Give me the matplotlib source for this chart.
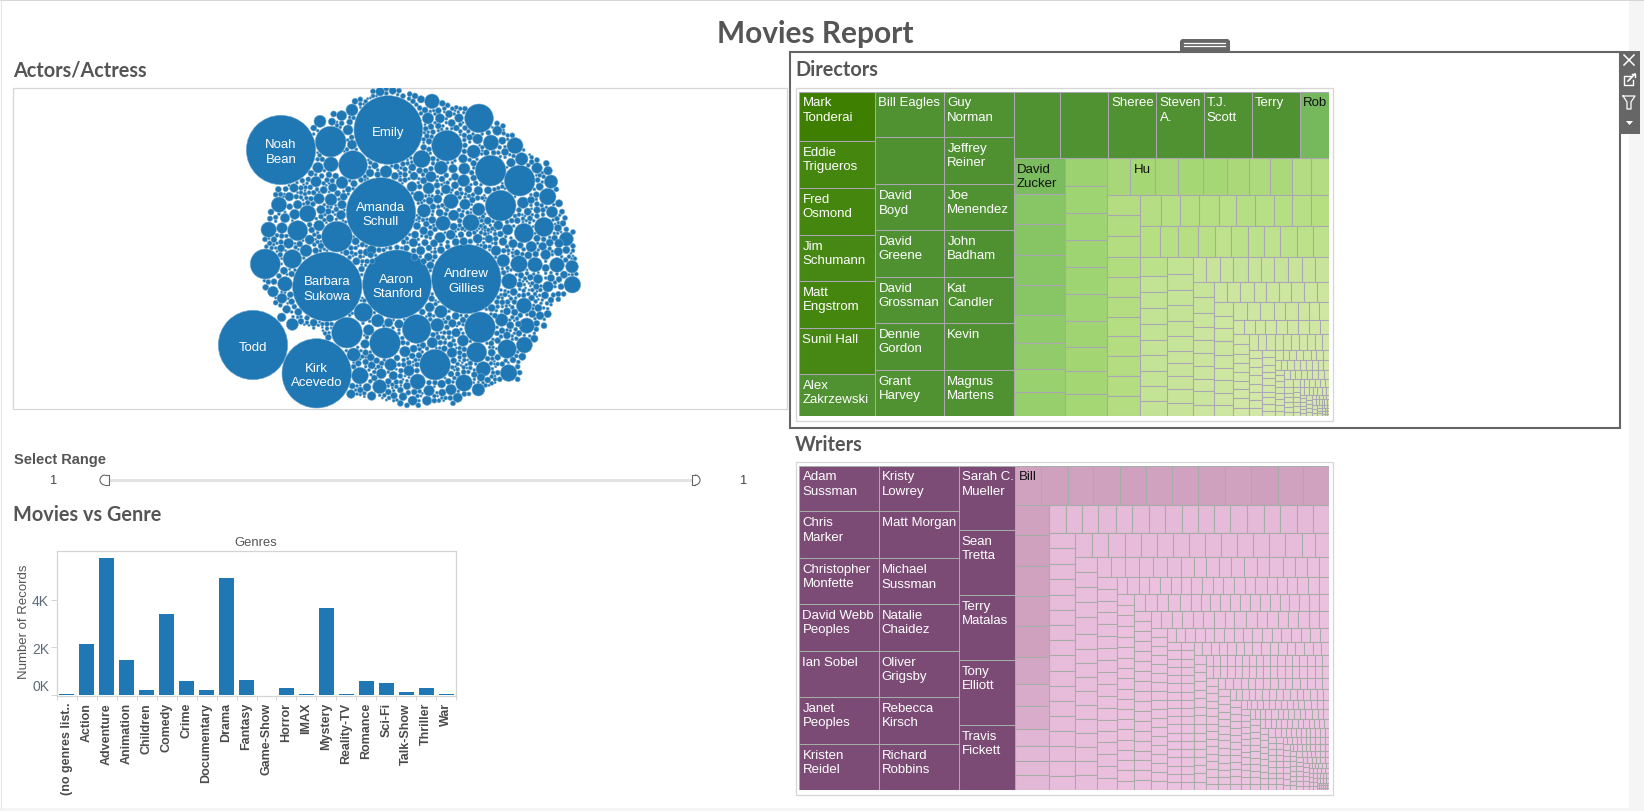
import numpy as np
import matplotlib
matplotlib.use("Agg")
import matplotlib.pyplot as plt
from matplotlib.patches import Rectangle, Wedge, Arc, Polygon
from matplotlib.path import Path
from matplotlib.ticker import FixedLocator, NullFormatter

# ---------- data ----------
genres = ["(no genres list..", "Action", "Adventure", "Animation", "Children", "Comedy", "Crime",
          "Documentary", "Drama", "Fantasy", "Game-Show", "Horror", "IMAX", "Mystery", "Reality-TV",
          "Romance", "Sci-Fi", "Talk-Show", "Thriller", "War"]
genre_records = [45, 2130, 5750, 1470, 210, 3400, 590, 210, 4910, 630, 8, 295, 42, 3650, 42, 590, 505, 125, 295, 42]

actor_names = ["Noah\nBean", "Emily", "Amanda\nSchull", "Barbara\nSukowa", "Aaron\nStanford",
               "Andrew\nGillies", "Todd", "Kirk\nAcevedo"]
named_x = [168, 490, 468, 307, 516, 724, 84, 275]
named_y = [198, 138, 385, 608, 601, 585, 783, 868]
named_size = [104, 103, 104, 104, 103, 104, 104, 104]

upper_bubbles = [(317,173,46),(384,243,43),(666,185,46),(762,103,43),(797,260,46),(884,290,46),(827,365,46),(336,458,46),
 (218,440,30),(590,225,26),(318,241,22),(350,95,15),(381,78,18),(285,112,18),(621,52,22),(465,23,13),(503,20,11),(369,138,15),
 (381,182,14),(321,113,11),(609,103,17),(645,103,14),(702,102,13),(680,117,11),(672,90,11),(758,165,15),(798,176,23),(817,140,14),
 (870,185,24),(832,170,11),(746,203,20),(890,225,19),(858,236,13),(936,252,16),(969,260,13),(978,293,20),(944,308,11),(968,338,25),
 (1002,358,11),(981,384,17),(1011,383,8),(648,251,20),(684,254,13),(718,254,17),(714,224,13),(279,251,16),(258,268,9),(273,293,16),
 (351,296,18),(323,311,13),(296,318,11),(282,344,16),(318,347,18),(351,362,13),(248,389,25),(288,377,13),(209,391,15),(218,362,13),
 (162,362,23),(193,338,13),(207,312,13),(182,315,8),(167,331,7),(180,402,14),(152,400,7),(135,404,8),(131,437,23),(171,432,16),
 (282,425,16),(254,467,14),(147,467,9),(191,478,15),(348,393,14),(315,403,11),(483,263,18),(450,245,10),(435,267,12),(510,276,11),
 (458,272,9),(540,272,8),(567,276,12),(561,308,15),(596,290,10),(618,278,16),(611,313,17),(581,337,16),(651,285,9),(690,278,11),
 (716,290,18),(663,316,14),(597,380,20),(638,345,13),(678,352,22),(720,361,16),(761,376,19),(760,320,13),(789,319,11),(654,418,22),
 (686,394,16),(738,416,25),(788,410,11),(820,424,14),(848,437,16),(897,447,29),(957,429,29),(894,356,17),(918,348,11),(908,383,11),
 (936,378,10),(999,432,11),(1024,465,21),(989,462,9),(936,463,10),(877,410,9),(915,403,8),(894,404,6),(645,461,16),(677,452,14),
 (596,440,12),(565,476,13),(600,476,10),(627,478,11),(716,472,12),(758,464,14),(792,465,12),(834,473,12),(864,479,13),(919,488,16),
 (953,487,12),(1002,478,13),(387,299,10)]
lower_bubbles = [(121,60,45),(366,266,46),(480,297,46),(575,255,43),(765,250,46),(630,362,46),(755,325,30),(846,315,28),(898,303,24),
 (851,387,25),(905,245,23),(897,185,23),(853,112,23),(882,60,25),(930,62,22),(996,63,22),(1041,68,19),(1042,122,25),(969,128,16),
 (939,105,14),(1017,92,11),(962,32,15),(1000,23,13),(835,50,19),(813,20,15),(775,375,22),(717,417,25),(760,437,19),(578,413,23),
 (678,437,16),(698,461,14),(650,420,12),(612,440,16),(606,470,14),(563,470,14),(534,458,12),(507,455,10),(405,395,25),(464,428,21),
 (440,456,13),(378,450,13),(426,430,12),(469,389,15),(497,362,18),(552,380,16),(505,395,13),(540,323,16),(622,296,16),(681,326,15),
 (693,266,13),(682,238,12),(637,243,20),(714,290,17),(768,400,12),(800,326,11),(799,298,8),(415,205,28),(458,230,19),(491,236,13),
 (522,240,13),(431,258,16),(420,300,13),(386,332,20),(437,340,11),(455,350,9),(648,203,19),(614,190,14),(180,120,22),(202,45,28),
 (243,20,18),(144,143,16),(171,163,15),(185,196,12),(200,173,9),(170,220,13),(202,241,18),(168,13,11),(177,80,11),(147,113,9),
 (830,228,19),(831,260,9),(869,205,10),(945,215,12),(957,245,9),(935,238,9),(832,175,8),(880,240,9),(810,215,8),(1000,150,8),
 (985,153,7),(840,152,7),(425,25,11),(440,18,14),(442,52,8),(410,75,9),(437,33,9),(587,20,13),(569,40,11),(610,39,12),(596,52,9)]
small_sizes = [11]*40 + [9]*90 + [7.5]*150 + [6]*200 + [4.5]*260 + [3.5]*200

director_strips = [
 ('v',[205.6,194.6,194.6,190.4,194.6,190.4,173.9]),
 ('v',[171.3,176.3,172.5,176.3,172.5,176.3,172.5]),
 ('v',[172.6,177.7,173.9,177.7,173.9,177.7,173.9]),
 ('h',[170,174,174,172,174,174,108]),
 ('v',[101.5,84.6,87.4,84.6,84.6,77.1,75.2,64.9,67.7]),
 ('v',[63,60.8,60.8,60.8,60.8,60.8,58.5,54,51.8,49.5]),
 ('h',[47.3,48.4,47.3,49.5,48.4,44,41.8,44,36.3,37.4]),
 ('v',[37.2,38.4,37.2,37.8,36.6,36.6,34.8,36.6,36.6,36.6,36.6]),
 ('h',[35.7,32.9,32,32.9,30.1,32.9,31,32,31,32]),
 ('h',[32.6,31.6,32.6,29.8,27,27.9,27.9,27,27.9,27.9,27]),
 ('v',[27.9,23.5,23.5,23.5,23.5,22,22.5,22,23,22]),
 ('v',[23.5,22.1,20.7,22.1,20.7,19.8,17.5,17.9,17.9,19.3,17.9]),
 ('h',[18,18.8,18.8,19.5,18,18,19.5,18.8,18,18.8]),
 ('v',[17.6,18.7,16.4,15.2,15.2,15.2,14.8,14.4,15.6,13.7]),
 ('h',[14.4,14.4,14.4,13.8,13.8,13.2,14.4,13.2,13.8]),
 ('v',[14,13.3,13.7,14,13.7,13.3,13.7,11.9,12.3]),
 ('h',[12.5,12.5,13,10.9,12,10.9,9.4,9.4]),
 ('h',[8.7,9,8.2,9,9,8.7,8.7,9.2,7.6]),
 ('v',[8.7,8.1,7.8,7.8,7.8,7.8,7.8,8.1,7.5]),
 ('h',[7.7,6.8,7.4,6.8,6.8,6.5,6.5,7.1,5.7,6.5]),
 ('v',[5.9,6.1,6.1,5.9,5.9,5.7,5.9,5.7]),
 ('v',[5.1,5.3,4.6,4.1,5.1,4.6,4.1,4.6,4.6,3.9]),
 ('h',[4.7,3.2,4.1,3.8,4.1,3.2,3.9,3.4]),
 ('h',[3.2,3,3.2,3,3.2,2.9,3,2.7,3]),
 ('v',[3,3,3,3,3,2.7,3,2.9]),
 ('h',[3.3,2.7,2.9,3.3,2.9,2.9,3.3,3.1]),
 ('v',[3.8,2.9,2.1,2.3,2.3,2.4,2.3]),
 ('h',[2.8,1.9,2.2,2.3,2.2,2.2,2]),
 ('v',[1.9,1.9,1.8,1.7,2,1.8]),
 ('h',[1.6,1.7,1.5,1.7,1.9,1.7,1.3]),
 ('v',[1.2,1.3,1.2,1,1.2,1.2]),
 ('v',[1.6,1.3,1.3,1.4,1.4]),
 ('h',[.93,.76,.85,.85,.85]),
 ('h',[.97,.87,.77,.68,.77,.77]),
 ('v',[1.2,1,1]),
 ('v',[.91,.73,.73,.82]),
 ('h',[.33,.47,.53]),
 ('h',[.34,.34,.34]),
 ('h',[.34,.34,.34]),
 ('h',[.34,.34,.34]),
]
director_labels = {
 (0,0):"Mark\nTonderai",(0,1):"Eddie\nTrigueros",(0,2):"Fred\nOsmond",(0,3):"Jim\nSchumann",(0,4):"Matt\nEngstrom",
 (0,5):"Sunil Hall",(0,6):"Alex\nZakrzewski",
 (1,0):"Bill Eagles",(1,2):"David\nBoyd",(1,3):"David\nGreene",(1,4):"David\nGrossman",(1,5):"Dennie\nGordon",(1,6):"Grant\nHarvey",
 (2,0):"Guy\nNorman",(2,1):"Jeffrey\nReiner",(2,2):"Joe\nMenendez",(2,3):"John\nBadham",(2,4):"Kat\nCandler",(2,5):"Kevin",(2,6):"Magnus\nMartens",
 (3,2):"Sheree",(3,3):"Steven\nA.",(3,4):"T.J.\nScott",(3,5):"Terry",(3,6):"Rob",
 (4,0):"David\nZucker",(6,1):"Hu"}
director_dark_text = {(3,6),(4,0),(6,1)}
director_color_values = [0, 5, 15, 23, 32, 37, 48, 60, 85, 100, 108, 170, 178, 191, 206]
director_colors = ["#d6e9ae","#d4e8a9","#cbe59e","#c3e395","#b6df82","#b3dd80","#a6d775","#9fd471","#88c565","#7cbd60","#76b95d","#509232","#4f9130","#478813","#3e7f00"]

writer_strips = [
 ('v',[197.3,203,198.7,203,198.7,203,198.7]),
 ('v',[198.7,204.5,200.1,204.5,200.1,204.5,200.1]),
 ('v',[199.8,200.9,200.9,200.9,200.9]),
 ('h',[55.9,57.1,55.9,57.1,57.1,55.9,55.9,57.1,55.9,58.3,55.9,55.9]),
 ('v',[55.8,57.7,55.8,55.8,57.7,49,42.2,41.5,31.6,29.1,26,27.9]),
 ('h',[25.4,23.8,23.8,25.4,23.8,25.4,24.6,24.6,23.8,24.6,23.8,25.4,24.6,24.6,24.6,24.6,23.8]),
 ('v',[22.1,22.1,21.6,21.6,21.2,22.1,21.2,21.2,21.6,21.2,21.2,21.2,21.2,21.2,22.1,20.2,20.7]),
 ('h',[21.8,21.3,21.8,20.9,20.9,20.9,20.9,20.9,20.9,20.9,20.9,20.9,20.9,21.3,17.9,18.3]),
 ('v',[18,18.4,18,18,19.2,18,16.8,16.8,16.8,16.4,16.8,16.8,16.8,16.4,16.8,18.4]),
 ('h',[15.2,15.2,15.2,15.2,15.2,15.2,14.5,12.3,14.5,13.1,13.8,13.8,13.8,14.5,13.1,13.8,12.3,11.6]),
 ('v',[12.6,12.6,11.9,12.3,13,12.6,12.6,12.6,12.6,13.3,12.3,12.3,11.6,12.3,12.6,12.6,12.6,12.6]),
 ('h',[10.2,11.8,9.6,10.2,10.2,10.2,9.6,10.6,10.6,9.6,10.2,10.2,10.2,10.9,9.6,10.2,9.6,10.6,9.9,10.2]),
 ('v',[10.2,10.2,10.6,10.2,9.9,9.9,9.9,9.9,9.9,9.9,9.6,9.9,9.9,9.9,9.6,9.9,9.9,9.9,9.3]),
 ('h',[9.9,11.4,10.2,11.4,9.9,9.3,8.3,8.9,9.6,9.3,9.3,9.3,9.3,9.3,8.3,9.3,9.3,9.3,9.3]),
 ('v',[9.3]*18),
 ('h',[8.6,9.8,9.2,9.5,8.9,9.8,9.8,8,10.7,9.2,9.5,9.2,9.5,8.9,9.5,9.2,8.9]),
 ('v',[7.6]*18),
 ('h',[7.7,7.2,8,7.7,7.4,7.7,7.7,7.7,7.2,7.7,8,7.4,8,7.7,7.4,7.7,7.4]),
 ('v',[6.2]*18),
 ('v',[6.2]*18),
 ('h',[5.3,6.2,5.5,5.5,6.2,5.3,6,6,6,6,6,5.8,6,5.8,5.8,5.8]),
 ('v',[6.3,5,5.7,5.9,5.5,5.7,5.7,5.5,5.9,5.2,5.7,5.2,5.2,5.2,5.7,5.5]),
 ('h',[4,4.2,4.2,4.4,4.6,4,4.2,4.4,4.2,4.2,4.4,4.4,4.4,4.4,5,4.2,4.4]),
 ('h',[4.5,4.7,4.7,4.9,5.2,4.5,4.7,4.9,4.7,4.7,4.9,4.9,4.9,4.9,5.6,4.7,4.9]),
 ('v',[4.8,4.8,5,5,5.2,5,5,4.8,4.8,5,5,5.2,5,4.8,3.9]),
 ('h',[4.1,4.7,4.7,4.5,4.5,4.5,4.5,4.7,4.5,4.3,4.9,4.3,4.7,4.5,4.5]),
 ('v',[4.2,4.6,4.8,4.4,4,4.6,4,4.6,4.4,4.4,4.4,4.2,4.4,3.6]),
 ('h',[3.8,3.8,4.2,3.6,4,4.4,4,4.4,4,4,3.8,4.2,4,3.6,4]),
 ('v',[4.2,4,4.4,4,4.4,4,4,4,4.2,4.2,4.2,4.4,4]),
 ('h',[2.7,2.1,2.7,2.7,2.6,2.7,2.7,2.6,2.7,2.6,2.7,3,2.7,2.9,2.7]),
 ('v',[3.4,2.9,3,3,3.2,3,3.4,2.7,3.2,3.4,3.4,3.7,3]),
 ('h',[2.9,2.5,3.1,3.3,3.3,2.7,3.1,3.3,3.1,2.9,3.6,3.3,2.9,3.3]),
 ('v',[3.6]*11),
 ('h',[2.5,2.9,2.7,2.7,2.7,2.7,2.9,2.9,2.9,2.5,2.5,2.5,2.7]),
 ('v',[2.6]*10),
 ('h',[3.6,2.8,2.4,2.4,2.4,2.4,2.4,2.1,2.4,2.4,2.3,2.3]),
 ('v',[2.6]*9),
 ('v',[2.26]*9),
 ('h',[1.65,1.8,1.9,1.65,1.8,1.65,1.9,1.9,1.8,1.8]),
 ('v',[2.2]*8),
 ('h',[1.5,1.6,1.7,1.6,1.7,2,2,1.9,1.9]),
 ('v',[1.6]*8),
 ('h',[1.9,1.5,1.2,1.3,1.5,1.4,1.4]),
 ('v',[1.8]*7),
 ('h',[1.44,1.34,1.34,1.34,1.34,1.44]),
 ('v',[1.5]*6),
 ('h',[.87,.97,.97,.97,1.16,1.07]),
 ('h',[1.1,1.1,1.1,1.1,1.3]),
 ('v',[1.1]*4),
 ('h',[.91,.91,.91,.82,.82]),
 ('v',[.89]*3),
 ('h',[.77]*4),
 ('h',[.28]*6),
 ('h',[.28]*6),
 ('h',[.28]*6),
]
writer_labels = {
 (0,0):"Adam\nSussman",(0,1):"Chris\nMarker",(0,2):"Christopher\nMonfette",(0,3):"David Webb\nPeoples",(0,4):"Ian Sobel",
 (0,5):"Janet\nPeoples",(0,6):"Kristen\nReidel",
 (1,0):"Kristy\nLowrey",(1,1):"Matt Morgan",(1,2):"Michael\nSussman",(1,3):"Natalie\nChaidez",(1,4):"Oliver\nGrigsby",
 (1,5):"Rebecca\nKirsch",(1,6):"Richard\nRobbins",
 (2,0):"Sarah C.\nMueller",(2,1):"Sean\nTretta",(2,2):"Terry\nMatalas",(2,3):"Tony\nElliott",(2,4):"Travis\nFickett",
 (3,0):"Bill"}
writer_dark_text = {(3,0)}
writer_color_values = [0, 5, 20, 30, 45, 57, 200]
writer_colors = ["#edc5e3","#ecc3e1","#e8bcdb","#e2b6d5","#d6a9c8","#cfa1bf","#7b4b76"]

# ---------- helpers ----------
SANS = "Liberation Sans"
HEAD = "Lato"
BLUE = "#1f77b4"
HEADC = "#555555"
W, H = 1644, 812
fig = plt.figure(figsize=(W/100, H/100), dpi=100, facecolor="white")

def axpx(x0, y0, x1, y1, **kw):
    return fig.add_axes([x0/W, 1-y1/H, (x1-x0)/W, (y1-y0)/H], **kw)

bg = axpx(0, 0, W, H)
bg.set_xlim(0, W); bg.set_ylim(H, 0); bg.axis("off")

def rect(x0, y0, x1, y1, fc="none", ec="none", lw=1.0, z=1):
    bg.add_patch(Rectangle((x0, y0), x1-x0, y1-y0, fc=fc, ec=ec, lw=lw, zorder=z))

rect(1629, 0, W, H, fc="#f5f5f5")
rect(0, 809, W, H, fc="#f5f5f5")
bg.plot([0, W], [1, 1], color="#cfcfcf", lw=1.2)
bg.plot([0.5, 0.5], [1, 809], color="#e4e4e4", lw=0.8)

def heading(x, y, s, size=14.3):
    bg.text(x, y, s, fontsize=size, fontfamily=HEAD, fontweight="bold", color=HEADC, va="center", ha="left")

bg.text(815, 34, "Movies Report", fontsize=21.5, fontfamily=HEAD, fontweight="bold", color=HEADC, ha="center", va="center")
heading(13, 70.5, "Actors/Actress")
heading(795, 70.5, "Directors")
heading(795, 445, "Writers")
heading(13, 515, "Movies vs Genre")

# frames
rect(13, 88.5, 786.5, 409.5, ec="#d6d6d6", lw=0.9)
rect(795.5, 88.5, 1332.5, 421.5, ec="#d6d6d6", lw=0.9)
rect(795.5, 462.5, 1332.5, 795.5, ec="#d6d6d6", lw=0.9)

# selected worksheet chrome
rect(790, 52.7, 1620, 428.7, ec="#666666", lw=1.5, z=3)
bg.add_patch(Polygon([[1180, 52], [1180, 42], [1182, 40], [1228, 40], [1230, 42], [1230, 52]], fc="#666666", ec="none", zorder=3))
bg.plot([1184, 1225], [43.5, 43.5], color="white", lw=0.9, zorder=4)
bg.plot([1184, 1225], [47, 47], color="white", lw=0.9, zorder=4)
rect(1619.5, 51.5, 1640, 135, fc="#666666", z=4)
bg.plot([1624, 1634], [56, 66], color="white", lw=1.1, zorder=5)
bg.plot([1624, 1634], [66, 56], color="white", lw=1.1, zorder=5)
bg.plot([1631, 1624, 1624, 1633, 1633], [77, 77, 86, 86, 81], color="white", lw=1.0, zorder=5)
bg.plot([1628, 1635], [82, 75], color="white", lw=1.2, zorder=5)
bg.plot([1632, 1635, 1635], [75, 75, 78], color="white", lw=1.0, zorder=5)
bg.plot([1623, 1635, 1631, 1631, 1627, 1627, 1623], [97, 97, 103, 110, 110, 103, 97], color="white", lw=0.9, zorder=5)
bg.add_patch(Polygon([[1626, 122], [1633, 122], [1629.5, 126]], fc="white", ec="none", zorder=5))

# slider
bg.text(14, 460.5, "Select Range", fontsize=10.5, fontfamily=SANS, fontweight="bold", color="#555555", va="center")
bg.text(54, 481, "1", fontsize=9.2, fontfamily=SANS, color="#444444", ha="center", va="center")
bg.text(743.5, 481, "1", fontsize=9.2, fontfamily=SANS, color="#444444", ha="center", va="center")
rect(106, 479.5, 693, 483, fc="#e3e3e3")
for cx, t1, t2, flat in ((105, 90, 270, 108.5), (695, -90, 90, 691.5)):
    bg.add_patch(Wedge((cx, 481), 5, t1, t2, fc="white", ec="none", zorder=3))
    rect(min(cx, flat), 476, max(cx, flat), 486, fc="white", z=3)
    bg.add_patch(Arc((cx, 481), 10, 10, theta1=t1, theta2=t2, color="#666666", lw=0.8, zorder=4))
    bg.plot([cx, flat, flat, cx], [476, 476, 486, 486], color="#666666", lw=0.8, zorder=4)

# ---------- packed bubbles ----------
XL, XR = (13-225)*3, (786.5-225)*3
YT, YB = (88.5-85)*3, (409.5-85)*3
bub = axpx(13, 88.5, 786.5, 409.5)
bub.set_xlim(XL, XR); bub.set_ylim(YB, YT); bub.axis("off")
bub.patch.set_alpha(0)

LOWER_SHIFT = 480
px = list(named_x) + [b[0] for b in upper_bubbles] + [b[0] for b in lower_bubbles]
py = list(named_y) + [b[1] for b in upper_bubbles] + [b[1]+LOWER_SHIFT for b in lower_bubbles]
pr = list(named_size) + [b[2] for b in upper_bubbles] + [b[2] for b in lower_bubbles]

outline = Path([(110,430),(150,330),(265,130),(340,80),(420,35),(465,10),(530,15),(600,50),(700,55),(810,100),(860,150),
                (905,190),(980,250),(1000,340),(1020,380),(1050,460),(1065,540),(1070,610),(1000,650),(985,670),(960,730),
                (915,800),(880,890),(780,920),(700,960),(560,970),(440,955),(380,950),(320,770),(240,740),(160,675),
                (130,630),(75,540),(110,490)])
gx, gy = np.meshgrid(np.arange(60, 1100, 2.0), np.arange(0, 984, 2.0))
inside = outline.contains_points(np.c_[gx.ravel(), gy.ravel()]).reshape(gx.shape)
core = inside.copy()
for _ in range(6):
    core = core & np.roll(core, 1, 0) & np.roll(core, -1, 0) & np.roll(core, 1, 1) & np.roll(core, -1, 1)
clear = np.full(gx.shape, 1e6)
for x0, y0, r0 in zip(px, py, pr):
    clear = np.minimum(clear, np.hypot(gx-x0, gy-y0) - r0)
sx, sy, sr = [], [], []
for r0 in small_sizes:
    allowed = inside if r0 >= 7 else core
    cand = (clear >= r0 + 0.5) & allowed
    if not cand.any():
        continue
    idx = np.where(cand, clear, 1e9).argmin()
    i, j = np.unravel_index(idx, clear.shape)
    sx.append(gx[i, j]); sy.append(gy[i, j]); sr.append(r0)
    clear = np.minimum(clear, np.hypot(gx-gx[i, j], gy-gy[i, j]) - r0)

allx = np.array(px + sx); ally = np.array(py + sy); allr = np.array(pr + sr)
bub.scatter(allx, ally, s=(2*allr/3*0.72)**2, color=BLUE, edgecolors="#6aa5cd", linewidths=0.4, zorder=2)
for name, x0, y0 in zip(actor_names, named_x, named_y):
    bub.text(x0, y0+5, name, color="white", fontsize=9.5, fontfamily=SANS, ha="center", va="center", linespacing=1.3, zorder=3)

# ---------- treemaps ----------
def layout(strips):
    remaining = sum(sum(v) for _, v in strips)
    x0, y0, x1, y1 = 0.0, 0.0, 1.0, 1.0
    cells = []
    for si, (orient, vals) in enumerate(strips):
        share = sum(vals)/remaining
        total = sum(vals)
        if orient == 'v':
            w = (x1-x0)*share
            pos = y0
            for ci, v in enumerate(vals):
                h = (y1-y0)*v/total
                cells.append((si, ci, x0, pos, w, h, v)); pos += h
            x0 += w
        else:
            h = (y1-y0)*share
            pos = x0
            for ci, v in enumerate(vals):
                w = (x1-x0)*v/total
                cells.append((si, ci, pos, y0, w, h, v)); pos += w
            y0 += h
        remaining -= sum(vals)
    return cells

def hexrgb(c):
    return np.array(matplotlib.colors.to_rgb(c))

def treemap(box, strips, labels, dark, cv, cc, edge):
    ax = axpx(*box)
    ax.set_xlim(0, 1); ax.set_ylim(1, 0); ax.axis("off")
    rgb = np.array([hexrgb(c) for c in cc])
    for si, ci, x, y, w, h, v in layout(strips):
        col = [np.interp(v, cv, rgb[:, k]) for k in range(3)]
        ax.add_patch(Rectangle((x, y), w, h, fc=col, ec=edge, lw=0.75))
        lab = labels.get((si, ci))
        if lab:
            ax.annotate(lab, xy=(x, y), xytext=(2.3, -3.2), textcoords="offset points",
                        fontsize=9.5, fontfamily=SANS, va="top", ha="left", linespacing=1.3,
                        color="#111111" if (si, ci) in dark else "white")

treemap((799.3, 92.7, 1329.3, 417.3), director_strips, director_labels, director_dark_text,
        director_color_values, director_colors, "#aba6b4")
treemap((799.3, 466.7, 1329.3, 791.3), writer_strips, writer_labels, writer_dark_text,
        writer_color_values, writer_colors, "#a6aca6")

# ---------- bar chart ----------
bar = axpx(56.7, 552.3, 456.3, 696.7)
xp = np.arange(len(genres))
bar.bar(xp, genre_records, width=0.75, color=BLUE)
bar.set_xlim(-0.5, len(genres)-0.5)
bar.set_ylim(-25, 6040)
for s in bar.spines.values():
    s.set_color("#d4d4d4"); s.set_linewidth(0.9)
bar.set_xticks(xp)
bar.set_xticklabels(genres, rotation=90, fontsize=9.0, fontfamily=SANS, fontweight="bold", color="#4a4a4a")
bar.tick_params(axis="x", which="major", length=0, pad=4.5)
bar.xaxis.set_minor_locator(FixedLocator(np.arange(-0.5, len(genres), 1)))
bar.xaxis.set_minor_formatter(NullFormatter())
bar.tick_params(axis="x", which="minor", length=3, width=0.7, color="#d4d4d4")
bar.set_yticks([0, 2000, 4000])
bar.set_yticklabels(["", "2K", "4K"], fontsize=10, fontfamily=SANS, color="#5c6c7c")
bar.tick_params(axis="y", length=4, width=0.7, color="#d4d4d4", pad=1.5)
bar.annotate("0K", xy=(0, 0), xycoords=("axes fraction", "data"), xytext=(-5, 1.2), textcoords="offset points",
             fontsize=10, fontfamily=SANS, color="#5c6c7c", ha="right", va="bottom")
bg.text(24, 622, "Number of Records", rotation=90, fontsize=9.5, fontfamily=SANS, color="#555555", ha="center", va="center")
bg.text(256, 543, "Genres", fontsize=9.4, fontfamily=SANS, color="#555555", ha="center", va="center")

fig.savefig("out.png", dpi=100, facecolor="white")
